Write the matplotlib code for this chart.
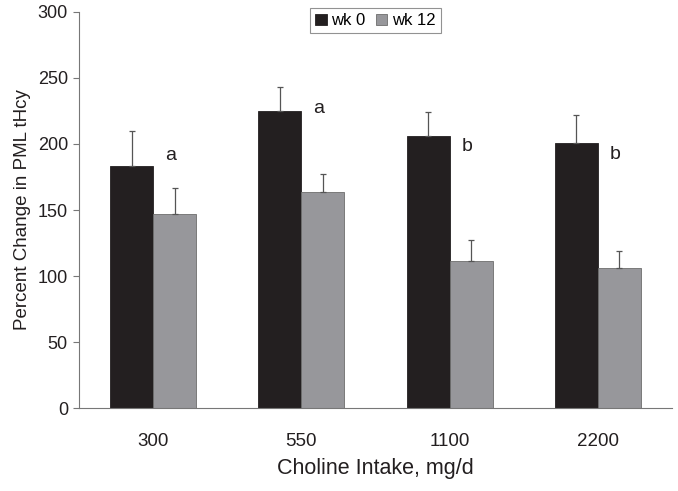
import numpy as np
import matplotlib.pyplot as plt

plt.rcParams['font.family'] = ['Liberation Sans', 'DejaVu Sans']

# Data
intake = ['300', '550', '1100', '2200']
wk0 = [183, 225, 206, 201]
wk0_err = [27, 18, 18, 21]
wk12 = [147, 164, 111, 106]
wk12_err = [20, 13, 16, 13]
letters = ['a', 'a', 'b', 'b']
letter_y = [191, 227, 198, 192]

x = np.arange(len(intake))
w = 0.29

fig = plt.figure(figsize=(6.78, 4.91), dpi=100)
ax = fig.add_axes([0.1165, 0.169, 0.8745, 0.8066])

ekw = dict(ecolor='#555555', elinewidth=0.9, capsize=2.5, capthick=0.9)
ax.bar(x - w/2, wk0, w, color='#231f20', edgecolor='#231f20', linewidth=0.6,
       yerr=[np.zeros(4), wk0_err], error_kw=ekw, label='wk 0')
ax.bar(x + w/2, wk12, w, color='#97979b', edgecolor='#6d6d6d', linewidth=0.6,
       yerr=[np.zeros(4), wk12_err], error_kw=ekw, label='wk 12')

for i in range(len(intake)):
    ax.text(x[i] + 0.12, letter_y[i], letters[i], fontsize=14, ha='center', va='center', color='#231f20')

ax.set_xlim(-0.5, 3.5)
ax.set_ylim(0, 300)
ax.set_yticks(range(0, 301, 50))
ax.set_xticks(x)
ax.set_xticklabels(intake)
ax.tick_params(axis='x', length=0, pad=18, labelsize=13.5, colors='#231f20')
ax.tick_params(axis='y', length=4, width=0.8, color='#777777', labelsize=13, labelcolor='#231f20', pad=4)

for s in ['top', 'right']:
    ax.spines[s].set_visible(False)
for s in ['left', 'bottom']:
    ax.spines[s].set_color('#777777')
    ax.spines[s].set_linewidth(0.8)

ax.set_ylabel('Percent Change in PML tHcy', fontsize=13.5, color='#231f20', labelpad=5)
ax.set_xlabel('Choline Intake, mg/d', fontsize=15.5, color='#231f20', labelpad=6)

leg = ax.legend(loc='upper center', bbox_to_anchor=(0.5, 1.03), ncol=2, fontsize=12,
                frameon=True, fancybox=False, edgecolor='#777777', handlelength=0.7,
                handleheight=0.7, handletextpad=0.3, columnspacing=0.6, borderpad=0.3)
leg.get_frame().set_linewidth(0.8)

fig.savefig('out.png', dpi=100)
